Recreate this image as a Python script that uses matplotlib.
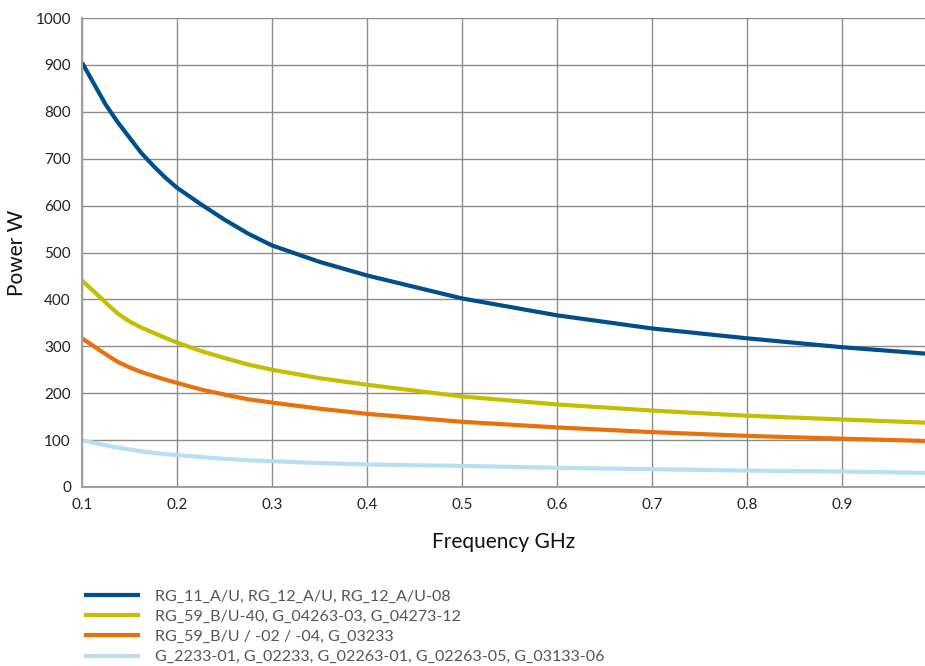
import matplotlib
matplotlib.use("Agg")
import matplotlib.pyplot as plt

# Values
freq = [0.10, 0.1125, 0.125, 0.1375, 0.15, 0.1625, 0.175, 0.1875, 0.2, 0.225, 0.25, 0.275,
        0.3, 0.35, 0.4, 0.5, 0.6, 0.7, 0.8, 0.9, 0.99]
power_rg11 = [905, 860, 815, 778, 745, 712, 685, 660, 638, 603, 570, 540,
              515, 480, 451, 402, 366, 338, 317, 298, 284]
power_rg59_40 = [440, 417, 393, 370, 353, 340, 329, 318, 308, 290, 275, 261,
                 250, 232, 218, 193, 176, 163, 152, 144, 137]
power_rg59 = [317, 300, 283, 267, 255, 245, 237, 229, 222, 208, 197, 187,
              180, 167, 156, 139, 127, 117, 109, 103, 98]
power_g2233 = [100, 94, 89, 84, 80, 76, 73, 70, 68, 64, 60, 57,
               55, 51, 48, 45, 41, 38, 35, 33, 30]

labels = [
    "RG_11_A/U, RG_12_A/U, RG_12_A/U-08",
    "RG_59_B/U-40, G_04263-03, G_04273-12",
    "RG_59_B/U / -02 / -04, G_03233",
    "G_2233-01, G_02233, G_02263-01, G_02263-05, G_03133-06",
]
colors = ["#004f8c", "#c4bd00", "#e8710a", "#b8def4"]
x_ticks = [0.1, 0.2, 0.3, 0.4, 0.5, 0.6, 0.7, 0.8, 0.9]
y_ticks = [0, 100, 200, 300, 400, 500, 600, 700, 800, 900, 1000]

plt.rcParams["font.family"] = ["Lato", "DejaVu Sans"]

fig = plt.figure(figsize=(9.25, 6.66), dpi=100)
ax = fig.add_axes([82 / 925, 1 - 487 / 666, 1 - 82 / 925, (487 - 18) / 666])

series = [power_rg11, power_rg59_40, power_rg59, power_g2233]
for vals, col, lab in zip(series, colors, labels):
    ax.plot(freq, vals, color=col, linewidth=3, label=lab, solid_capstyle="butt")

ax.set_xlim(0.1, 0.987)
ax.set_ylim(0, 1000)
ax.set_xticks(x_ticks)
ax.set_xticklabels([f"{t:.1f}" for t in x_ticks])
ax.set_yticks(y_ticks)
ax.grid(True, color="#8c8c8c", linewidth=1)
ax.set_axisbelow(True)
ax.tick_params(length=0, labelsize=11, colors="#222222", pad=8)
for side in ["top", "right"]:
    ax.spines[side].set_visible(False)
for side in ["left", "bottom"]:
    ax.spines[side].set_color("#a0a0a0")
    ax.spines[side].set_linewidth(1.5)

ax.set_xlabel("Frequency GHz", fontsize=15, labelpad=14, color="#111111")
ax.set_ylabel("Power W", fontsize=15, labelpad=6, color="#111111")

handles, labs = ax.get_legend_handles_labels()
fig.legend(handles, labs, loc="upper left", bbox_to_anchor=(78 / 925, 1 - 583 / 666),
           frameon=False, fontsize=11.5, handlelength=3.5, handletextpad=0.9,
           labelspacing=0.38, labelcolor="#555555", borderaxespad=0)

fig.savefig("out.png", dpi=100)
